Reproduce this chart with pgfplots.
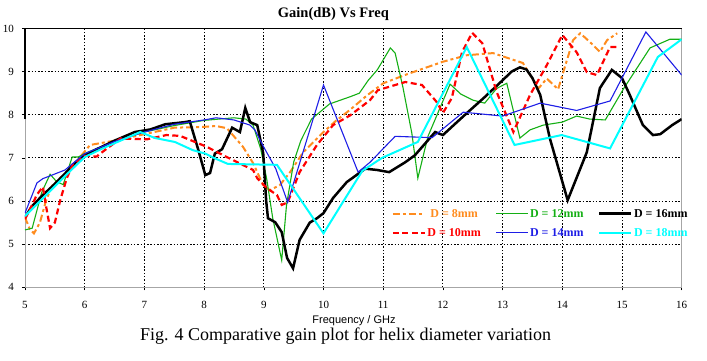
\documentclass[border=0pt]{standalone}
\usepackage{fontspec}
\setmainfont{Liberation Serif}
\newfontfamily\arialf{Liberation Sans}
\usepackage{pgfplots}
\pgfplotsset{compat=1.18}
\definecolor{cOrange}{RGB}{255,140,30}
\definecolor{cRed}{RGB}{255,0,0}
\definecolor{cGreen}{RGB}{20,175,20}
\definecolor{cBlue}{RGB}{30,30,230}
\definecolor{cCyan}{RGB}{0,255,255}
\begin{document}
\begin{tikzpicture}
\useasboundingbox (0,0) rectangle (707pt,360pt);
\begin{axis}[
  at={(25pt,72.7pt)}, anchor=south west,
  scale only axis, width=656.7pt, height=258.8pt,
  xmin=5, xmax=16, ymin=4, ymax=10,
  xtick={5,6,...,16}, ytick={4,5,...,10},
  /pgf/number format/assume math mode=true,
  xtick pos=bottom, ytick pos=left,
  tick align=outside, major tick length=3pt,
  tick style={black, line width=0.6pt},
  grid=major,
  grid style={black, line width=0.9pt, dash pattern=on 1.5pt off 1.8pt},
  axis line style={gray!70, line width=0.8pt},
  xticklabel style={font=\fontsize{11}{12}\selectfont, anchor=base, inner sep=0pt, yshift=-18pt},
  yticklabel style={font=\fontsize{11}{12}\selectfont, anchor=east, inner sep=0pt, xshift=-8pt},
  title={Gain(dB) Vs Freq},
  title style={at={(axis description cs:0.4696,1)}, anchor=base, yshift=5.2pt, inner sep=0pt, font=\bfseries\fontsize{14.5}{16}\selectfont},
  xlabel={Frequency / GHz},
  xlabel style={at={(axis description cs:0.501,0)}, anchor=base, yshift=-36pt, inner sep=0pt, font=\arialf\fontsize{11}{12}\selectfont},
  clip mode=individual,
  legend columns=3,
  legend image code/.code={\draw[#1] (0pt,0pt) -- (32pt,0pt);},
  legend style={at={(axis cs:11.14,5.84)}, anchor=north west, draw=none, fill=none,
    inner sep=0pt, row sep=8pt,
    font=\bfseries\fontsize{12}{12}\selectfont,
    nodes={inner sep=1.5pt, text height=8pt, text depth=0pt},
    /tikz/every even column/.append style={column sep=13pt}},
]
% D = 8mm
\addplot[cOrange, line width=2pt, dash pattern=on 7pt off 3pt on 3pt off 3pt] coordinates {
(5.0,5.62) (5.08,5.35) (5.15,5.25) (5.25,5.5) (5.35,6.0) (5.45,6.35) (5.6,6.55) (5.7,6.62) (5.84,6.88) (6.09,7.3) (6.5,7.4) (7.0,7.55) (7.5,7.7) (8.0,7.72) (8.2,7.74) (8.38,7.69) (8.5,7.5) (8.65,7.26) (8.82,6.88) (8.99,6.37) (9.1,6.25) (9.27,6.37) (9.44,6.67) (9.66,7.13) (10.0,7.6) (10.2,7.85) (10.44,8.11) (10.73,8.45) (11.0,8.73) (11.4,8.94) (12.0,9.23) (12.4,9.38) (12.84,9.43) (13.34,9.2) (13.6,8.61) (13.74,8.84) (13.93,8.59) (14.01,8.96) (14.18,9.73) (14.3,9.89) (14.46,9.69) (14.63,9.46) (14.75,9.73) (14.92,9.89)
};
\addlegendentry{\textcolor{cOrange}{D = 8mm}}
% D = 12mm
\addplot[cGreen, line width=1.1pt] coordinates {
(5.0,5.33) (5.12,5.37) (5.28,6.2) (5.42,6.62) (5.53,6.45) (5.64,6.38) (5.79,7.02) (5.89,7.02) (6.0,7.1) (6.2,7.22) (6.5,7.38) (7.0,7.6) (7.5,7.75) (8.0,7.87) (8.5,7.93) (8.7,7.9) (8.82,7.76) (8.95,7.2) (9.05,6.5) (9.15,5.6) (9.3,4.63) (9.38,5.9) (9.5,6.9) (9.62,7.4) (9.8,7.9) (10.1,8.25) (10.45,8.42) (10.6,8.5) (10.75,8.8) (10.9,9.04) (11.12,9.55) (11.2,9.43) (11.33,8.64) (11.48,7.57) (11.58,6.53) (11.75,7.5) (12.12,8.71) (12.3,8.48) (12.5,8.34) (12.7,8.27) (12.9,8.61) (13.07,8.73) (13.29,7.46) (13.46,7.65) (13.68,7.76) (14.0,7.83) (14.24,7.97) (14.46,7.9) (14.72,7.88) (15.02,8.59) (15.47,9.55) (15.8,9.75) (16.0,9.75)
};
\addlegendentry{\textcolor{cGreen}{D = 12mm}}
% D = 16mm
\addplot[black, line width=2.5pt] coordinates {
(5.0,5.62) (5.11,5.87) (5.3,6.14) (5.48,6.37) (5.7,6.68) (5.85,6.9) (6.0,7.05) (6.2,7.2) (6.5,7.4) (6.84,7.6) (7.1,7.66) (7.35,7.78) (7.68,7.83) (7.76,7.85) (7.9,7.2) (8.02,6.6) (8.1,6.65) (8.18,7.1) (8.3,7.2) (8.47,7.7) (8.6,7.6) (8.69,8.16) (8.77,7.83) (8.89,7.76) (8.99,7.11) (9.04,6.0) (9.07,5.6) (9.19,5.51) (9.3,5.28) (9.39,4.68) (9.49,4.44) (9.6,5.1) (9.77,5.5) (9.89,5.6) (10.0,5.72) (10.16,6.07) (10.39,6.44) (10.7,6.75) (10.9,6.72) (11.1,6.67) (11.37,6.9) (11.53,7.06) (11.87,7.6) (12.0,7.53) (12.37,8.0) (12.7,8.41) (13.0,8.8) (13.15,9.0) (13.29,9.1) (13.4,9.05) (13.5,8.85) (13.63,8.46) (13.79,7.46) (14.09,6.02) (14.41,7.13) (14.63,8.62) (14.83,9.04) (15.0,8.85) (15.13,8.46) (15.35,7.76) (15.52,7.53) (15.64,7.55) (15.84,7.76) (16.0,7.9)
};
\addlegendentry{\textcolor{black}{D = 16mm}}
% D = 10mm
\addplot[cRed, line width=2.2pt, dash pattern=on 6pt off 3.5pt] coordinates {
(5.0,5.58) (5.1,5.85) (5.2,6.15) (5.3,6.33) (5.35,5.9) (5.42,5.37) (5.5,5.5) (5.59,6.02) (5.7,6.53) (5.8,6.85) (6.0,7.05) (6.2,7.03) (6.25,7.09) (6.6,7.45) (7.04,7.43) (7.37,7.53) (7.6,7.51) (8.04,7.26) (8.38,7.02) (8.82,6.72) (8.89,6.53) (9.05,6.3) (9.22,6.14) (9.3,5.91) (9.4,5.97) (9.6,6.67) (9.89,7.3) (10.16,7.76) (10.45,7.99) (10.78,8.34) (10.91,8.57) (11.37,8.76) (11.65,8.69) (11.9,8.29) (12.0,8.04) (12.15,8.39) (12.32,9.45) (12.49,9.9) (12.66,9.66) (12.9,8.53) (13.18,7.6) (13.46,8.46) (13.74,9.15) (14.0,9.85) (14.24,9.45) (14.41,8.99) (14.58,8.92) (14.8,9.57) (14.93,9.57)
};
\addlegendentry{\textcolor{cRed}{D = 10mm}}
% D = 14mm
\addplot[cBlue, line width=1.1pt] coordinates {
(5.0,5.72) (5.08,6.0) (5.2,6.42) (5.3,6.52) (5.45,6.6) (5.67,6.72) (6.0,7.1) (6.5,7.38) (7.0,7.6) (7.5,7.78) (8.0,7.88) (8.2,7.93) (8.5,7.88) (8.77,7.76) (8.85,7.65) (9.0,7.25) (9.2,6.75) (9.4,5.97) (10.0,8.69) (10.58,6.67) (10.78,6.9) (11.2,7.5) (11.82,7.47) (12.34,8.06) (13.0,7.97) (13.63,8.27) (14.24,8.1) (14.8,8.32) (15.4,9.92) (16.0,8.92)
};
\addlegendentry{\textcolor{cBlue}{D = 14mm}}
% D = 18mm
\addplot[cCyan, line width=2pt] coordinates {
(5.0,5.65) (5.7,6.62) (6.0,7.02) (6.3,7.22) (6.6,7.4) (6.93,7.6) (7.18,7.46) (7.51,7.37) (7.81,7.18) (8.02,7.1) (8.18,6.99) (8.4,6.86) (9.22,6.84) (10.0,5.25) (10.65,6.7) (10.98,7.0) (11.58,7.37) (12.4,9.57) (13.2,7.3) (13.99,7.53) (14.8,7.22) (15.6,9.34) (16.0,9.75)
};
\addlegendentry{\textcolor{cCyan}{D = 18mm}}
\draw[black, line width=1.3pt] (rel axis cs:0,0.65) -- (rel axis cs:0,1) -- (rel axis cs:1,1);
\end{axis}
\node[anchor=base, inner sep=0pt, font=\fontsize{18}{20}\selectfont] at (345.5pt,20pt) {Fig. 4 Comparative gain plot for helix diameter variation};
\end{tikzpicture}
\end{document}
